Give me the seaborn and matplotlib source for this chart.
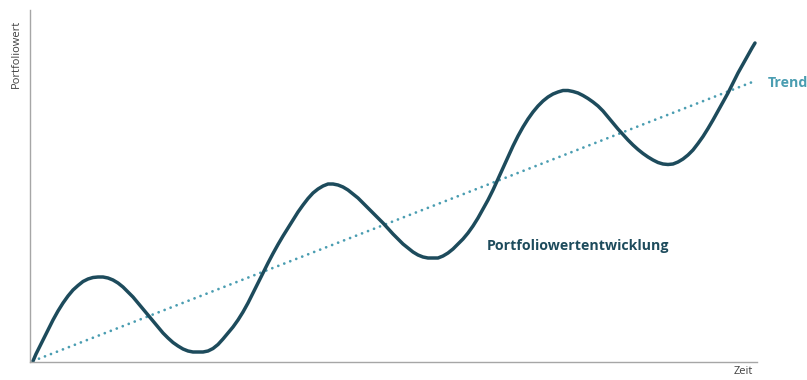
import matplotlib
matplotlib.use("Agg")
import matplotlib.pyplot as plt
import seaborn as sns
import pandas as pd

# Curve (time units, value units)
curve_x = [3, 6, 10, 14, 18,
           23, 28, 33, 38, 43, 48, 53, 58, 63, 68, 73, 78, 83, 88, 93, 98,
           103, 108, 113, 118, 123, 128, 133, 138, 143, 148, 153, 158, 163, 168, 173, 178,
           183, 188, 193, 198, 203, 208, 213, 218, 223, 228, 233, 238, 243, 248, 253, 258,
           263, 268, 273, 278, 283, 288, 293, 298, 303, 308, 313, 318, 323, 328, 333, 338,
           343, 348, 353, 358, 363, 368, 373, 378, 383, 388, 393, 398, 403, 408, 413, 418,
           423, 428, 433, 438, 443, 448, 453, 458, 463, 468, 473, 478, 483, 488, 493, 498,
           503, 508, 513, 518, 523, 528, 533, 538, 543, 548, 553, 558, 563, 568, 573, 578,
           583, 588, 593, 598, 603, 608, 613, 618, 623, 628, 633, 638, 643, 648, 653, 658,
           663, 668, 673, 678, 683, 688, 693, 698, 703, 708, 713, 718,
           722, 725]
curve_y = [1, 8, 16, 24, 32,
           42, 51, 59, 66, 72, 76.5, 80.5, 83, 84.5, 85, 85, 84, 82, 79, 75, 70,
           65, 59, 53, 47, 41, 35, 29, 24, 19.5, 16, 13, 11, 10, 10, 10, 11,
           13.5, 17.5, 23, 29, 35, 42, 50, 59, 69, 79, 89, 99, 108.5, 117.5, 126, 134,
           142, 150, 157, 163.5, 169, 173, 176, 178, 178, 177, 175, 172, 168, 164, 159, 154,
           149, 144, 139, 133.5, 128, 123, 118, 114, 110, 107, 105, 104, 104, 104, 106, 109,
           113, 118, 123, 129, 136, 144, 153, 162, 172, 183, 194, 205, 216, 226, 235, 243,
           250, 256, 261, 265, 268, 270, 271.5, 271.5, 270.5, 269, 266.5, 263.5, 260, 256, 251, 245,
           239, 233, 227.5, 222, 217, 212.5, 208.5, 205, 202, 199.5, 198, 197.5, 198, 200, 203, 207,
           212, 218.5, 225.5, 233.5, 242, 251, 260, 269, 279, 289, 298, 307,
           314, 319]
trend_x = [3, 725]
trend_y = [1, 281]

curve_label = "Portfoliowertentwicklung"
trend_label = "Trend"
y_label = "Portfoliowert"
x_label = "Zeit"

sns.set_theme(style="white")
plt.rcParams['font.family'] = ['Open Sans', 'DejaVu Sans']

fig = plt.figure(figsize=(8.07, 3.80), dpi=100)
ax = fig.add_axes([30 / 807, 18 / 380, 727 / 807, 352 / 380])

df_c = pd.DataFrame({"t": curve_x, "v": curve_y})
df_t = pd.DataFrame({"t": trend_x, "v": trend_y})

sns.lineplot(data=df_t, x="t", y="v", ax=ax, color="#4a9db1", linewidth=2.0,
             linestyle=(0, (0.01, 2.3)), dash_capstyle="round", sort=False)
sns.lineplot(data=df_c, x="t", y="v", ax=ax, color="#1d4b5c", linewidth=2.5,
             solid_capstyle="round", solid_joinstyle="round", sort=False)

ax.set_xlim(0, 727)
ax.set_ylim(0, 352)
ax.set_xticks([])
ax.set_yticks([])
ax.set_xlabel("")
ax.set_ylabel("")
for s in ["top", "right"]:
    ax.spines[s].set_visible(False)
for s in ["left", "bottom"]:
    ax.spines[s].set_color("#a6a6a6")
    ax.spines[s].set_linewidth(1.0)

fig.text(16 / 807, 1 - 54 / 380, y_label, rotation=90, ha="center", va="center",
         fontsize=8, color="#404040")
fig.text(743 / 807, 1 - 372 / 380, x_label, ha="center", va="center",
         fontsize=8, color="#404040")
fig.text(487 / 807, 1 - 246 / 380, curve_label, ha="left", va="center",
         fontsize=10.2, fontweight="bold", color="#1d4b5c")
fig.text(768 / 807, 1 - 83 / 380, trend_label, ha="left", va="center",
         fontsize=10.2, fontweight="bold", color="#4a9db1")

fig.savefig("out.png", dpi=100)
